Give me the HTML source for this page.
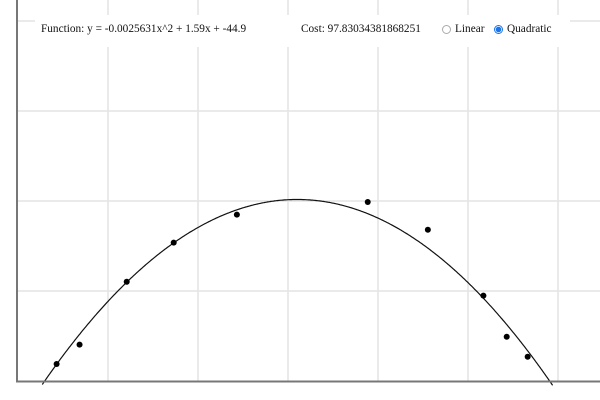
<!DOCTYPE html>
<html><head><meta charset="utf-8"><style>
html,body{margin:0;padding:0;background:#fff;width:600px;height:400px;overflow:hidden}
svg{display:block}
#ctrl{position:absolute;left:35px;top:15px;width:535px;height:32px;background:#fff;font-family:"Liberation Serif",serif;font-size:11.3px;color:#111;overflow:hidden}
#ctrl span{position:absolute;top:8px;white-space:nowrap}
.radio{position:absolute;top:10px;width:9px;height:9px;border-radius:50%;box-sizing:border-box;border:1px solid #aaa;background:#fff}
.radio.on{border:1px solid #1a73e8;background:radial-gradient(circle,#1a73e8 0 2.5px,#fff 3px)}
</style></head><body>
<svg id="chart" width="600" height="400" style="position:absolute;left:0;top:0;overflow:hidden"></svg>
<div id="ctrl">
<span style="left:6px">Function: y = -0.0025631x^2 + 1.59x + -44.9</span>
<span style="left:266px">Cost: 97.83034381868251</span>
<div class="radio" style="left:407px"></div>
<span style="left:420px">Linear</span>
<div class="radio on" style="left:459px"></div>
<span style="left:472px">Quadratic</span>
</div>
<script>
const xs=[42.9,68.4,120.8,173,243.2,388.6,455.4,517.1,543,566.3];
const ys=[18.9,40.4,110.3,153.7,184.8,198.9,168.1,94.8,49.2,27];
const coef=[-0.0025631,1.59,-44.9];
const gridX=[100,200,300,400,500,600];
const gridY=[100,200,300,400];
const NS="http://www.w3.org/2000/svg";
const svg=document.getElementById('chart');
const sx=v=>18+0.9*v, sy=v=>381-0.9*v;
function mk(t,a){const e=document.createElementNS(NS,t);for(const k in a)e.setAttribute(k,a[k]);svg.appendChild(e);return e;}
gridX.forEach(v=>{const l=mk('line',{x1:sx(v),x2:sx(v),y1:0,y2:381,stroke:'#e4e4e4','stroke-width':1.5});

});
gridY.forEach(v=>{const l=mk('line',{x1:18,x2:600,y1:sy(v),y2:sy(v),stroke:'#e4e4e4','stroke-width':1.5});

});
let d='';for(let x=0;x<=650;x+=1){const y=coef[0]*x*x+coef[1]*x+coef[2];if(y<-5)continue;d+=(d?'L':'M')+sx(x).toFixed(1)+','+sy(y).toFixed(1);}
const fit=mk('path',{d:d,fill:'none',stroke:'#111','stroke-width':1.2});


xs.forEach((x,i)=>{const c=mk('circle',{cx:sx(x),cy:sy(ys[i]),r:3,fill:'#000'});

});
const ax=mk('line',{x1:17,x2:17,y1:0,y2:382,stroke:'#777','stroke-width':2});


const bx=mk('line',{x1:16,x2:600,y1:381.5,y2:381.5,stroke:'#777','stroke-width':2});


</script>
</body></html>
